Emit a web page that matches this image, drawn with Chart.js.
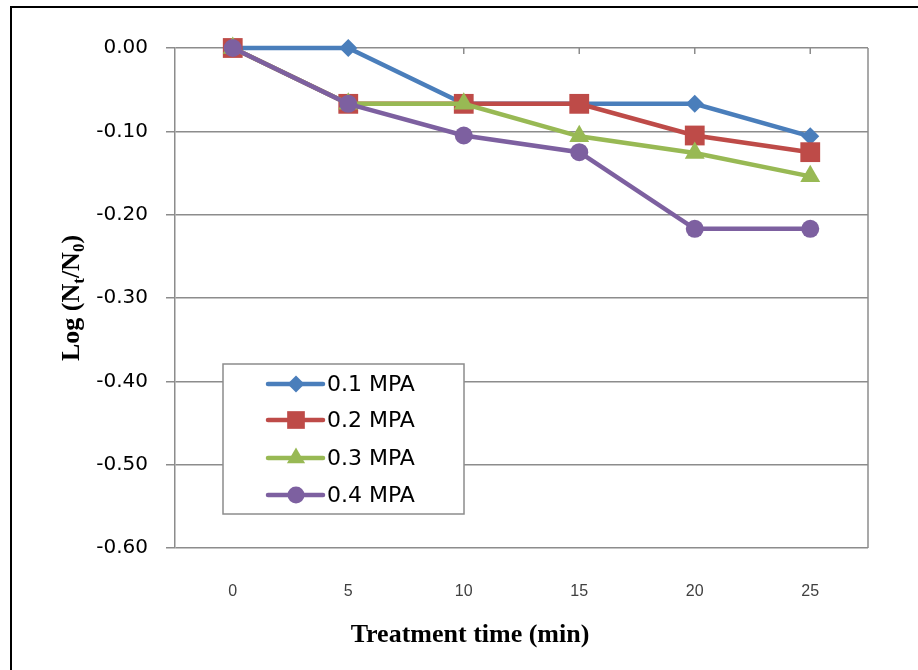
<!DOCTYPE html>
<html>
<head>
<meta charset="utf-8">
<script src="https://cdn.jsdelivr.net/npm/chart.js@4.4.1/dist/chart.umd.min.js"></script>
<style>
  html, body { margin: 0; padding: 0; background: #ffffff; }
  #wrap { position: relative; width: 918px; height: 670px; }
</style>
</head>
<body>
<div id="wrap"><canvas id="c" width="918" height="670"></canvas></div>
<script>
// ---- data ----
const categories = ['0', '5', '10', '15', '20', '25'];
const seriesNames = ['0.1 MPA', '0.2 MPA', '0.3 MPA', '0.4 MPA'];
const mpa01 = [0, 0, -0.067, -0.067, -0.067, -0.106];
const mpa02 = [0, -0.067, -0.067, -0.067, -0.105, -0.125];
const mpa03 = [0, -0.067, -0.067, -0.106, -0.126, -0.154];
const mpa04 = [0, -0.067, -0.105, -0.125, -0.217, -0.217];
const yMin = -0.6, yMax = 0, yStep = 0.1;
const xTitle = 'Treatment time (min)';

// ---- styles ----
const colors = ['#4a7ebb', '#be4b48', '#98b954', '#7d60a0'];
const styles = ['rectRot', 'rect', 'triangle', 'circle'];
const radii = [9, 14, 11.5, 9];
const seriesValues = [mpa01, mpa02, mpa03, mpa04];

const datasets = seriesValues.map((vals, i) => ({
  label: seriesNames[i],
  data: vals,
  borderColor: colors[i],
  backgroundColor: colors[i],
  borderWidth: 4.5,
  pointStyle: styles[i],
  pointRadius: radii[i],
  pointHoverRadius: radii[i],
  pointBackgroundColor: colors[i],
  pointBorderColor: colors[i],
  pointBorderWidth: 0,
  tension: 0,
  clip: false,
  order: 4 - i
}));

function drawMarker(ctx, style, x, y, r, color) {
  ctx.save();
  ctx.fillStyle = color;
  ctx.beginPath();
  if (style === 'rectRot') {
    ctx.moveTo(x - r, y); ctx.lineTo(x, y - r); ctx.lineTo(x + r, y); ctx.lineTo(x, y + r);
  } else if (style === 'rect') {
    const s = r * Math.SQRT1_2;
    ctx.rect(x - s, y - s, 2 * s, 2 * s);
  } else if (style === 'triangle') {
    ctx.moveTo(x, y - r);
    ctx.lineTo(x + r * 0.866, y + r * 0.5);
    ctx.lineTo(x - r * 0.866, y + r * 0.5);
  } else {
    ctx.arc(x, y, r, 0, Math.PI * 2);
  }
  ctx.closePath();
  ctx.fill();
  ctx.restore();
}

const extras = {
  id: 'extras',
  beforeDraw(chart) {
    const ctx = chart.ctx;
    ctx.save();
    ctx.fillStyle = '#ffffff';
    ctx.fillRect(0, 0, chart.width, chart.height);
    // outer frame (left + top)
    ctx.strokeStyle = '#000000';
    ctx.lineWidth = 2;
    ctx.beginPath();
    ctx.moveTo(11, chart.height + 5);
    ctx.lineTo(11, 7);
    ctx.lineTo(chart.width + 5, 7);
    ctx.stroke();
    ctx.restore();
  },
  beforeDatasetsDraw(chart) {
    const ctx = chart.ctx;
    const a = chart.chartArea;
    const xs = chart.scales.x;
    ctx.save();
    ctx.strokeStyle = '#8c8c8c';
    ctx.lineWidth = 1.5;
    // right border
    ctx.beginPath();
    ctx.moveTo(a.right, a.top);
    ctx.lineTo(a.right, a.bottom);
    ctx.stroke();
    // category tick marks on the top (zero) line
    ctx.beginPath();
    for (let i = 0; i < categories.length; i++) {
      const px = xs.getPixelForValue(i);
      ctx.moveTo(px, a.top);
      ctx.lineTo(px, a.top + 6);
    }
    ctx.stroke();
    ctx.restore();
  },
  afterDraw(chart) {
    const ctx = chart.ctx;
    ctx.save();
    // legend box
    const lx = 223, ly = 364, lw = 241, lh = 150;
    ctx.fillStyle = '#ffffff';
    ctx.fillRect(lx, ly, lw, lh);
    ctx.strokeStyle = '#8c8c8c';
    ctx.lineWidth = 1.5;
    ctx.strokeRect(lx, ly, lw, lh);
    const rowY = [384, 420, 458, 495];
    const legR = [8.5, 12.5, 10.5, 8.5];
    ctx.font = '22px "DejaVu Sans", sans-serif';
    ctx.textBaseline = 'middle';
    ctx.textAlign = 'left';
    for (let i = 0; i < seriesNames.length; i++) {
      const y = rowY[i];
      ctx.strokeStyle = colors[i];
      ctx.lineWidth = 4.5;
      ctx.lineCap = 'round';
      ctx.beginPath();
      ctx.moveTo(268, y);
      ctx.lineTo(323, y);
      ctx.stroke();
      drawMarker(ctx, styles[i], 296, y, legR[i], colors[i]);
      ctx.fillStyle = '#000000';
      ctx.fillText(seriesNames[i], 327, y + 1);
    }
    // x axis title
    ctx.font = 'bold 26px "Liberation Serif", "Times New Roman", serif';
    ctx.textAlign = 'center';
    ctx.textBaseline = 'alphabetic';
    ctx.fillStyle = '#000000';
    ctx.fillText(xTitle, 470, 642);
    // y axis title with subscripts
    ctx.translate(79, 298);
    ctx.rotate(-Math.PI / 2);
    const big = 'bold 26px "Liberation Serif", "Times New Roman", serif';
    const small = 'bold 17px "Liberation Serif", "Times New Roman", serif';
    const parts = [
      ['Log (N', big, 0], ['t', small, 5], ['/N', big, 0], ['0', small, 5], [')', big, 0]
    ];
    let total = 0;
    parts.forEach(p => { ctx.font = p[1]; total += ctx.measureText(p[0]).width; });
    let x = -total / 2;
    ctx.textAlign = 'left';
    parts.forEach(p => {
      ctx.font = p[1];
      ctx.fillText(p[0], x, p[2]);
      x += ctx.measureText(p[0]).width;
    });
    ctx.restore();
  }
};

new Chart(document.getElementById('c'), {
  type: 'line',
  data: { labels: categories, datasets: datasets },
  options: {
    responsive: false,
    animation: false,
    events: [],
    layout: { padding: { left: 0, right: 50, top: 48, bottom: 0 } },
    plugins: {
      legend: { display: false },
      title: { display: false },
      tooltip: { enabled: false }
    },
    scales: {
      x: {
        type: 'category',
        offset: true,
        grid: { display: false },
        border: { display: false },
        ticks: {
          color: '#404040',
          font: { family: '"Liberation Sans", Arial, sans-serif', size: 16 },
          padding: 26,
          maxRotation: 0,
          autoSkip: false
        },
        afterFit(s) { s.height = 122; }
      },
      y: {
        min: yMin,
        max: yMax,
        grid: {
          color: '#8c8c8c',
          lineWidth: 1.5,
          tickLength: 9,
          drawTicks: true
        },
        border: { display: true, color: '#8c8c8c', width: 1.5 },
        ticks: {
          stepSize: yStep,
          color: '#000000',
          font: { family: '"DejaVu Sans", sans-serif', size: 20 },
          padding: 18,
          callback: v => Number(v).toFixed(2)
        },
        afterFit(s) { s.width = 175; }
      }
    }
  },
  plugins: [extras]
});
</script>
</body>
</html>
